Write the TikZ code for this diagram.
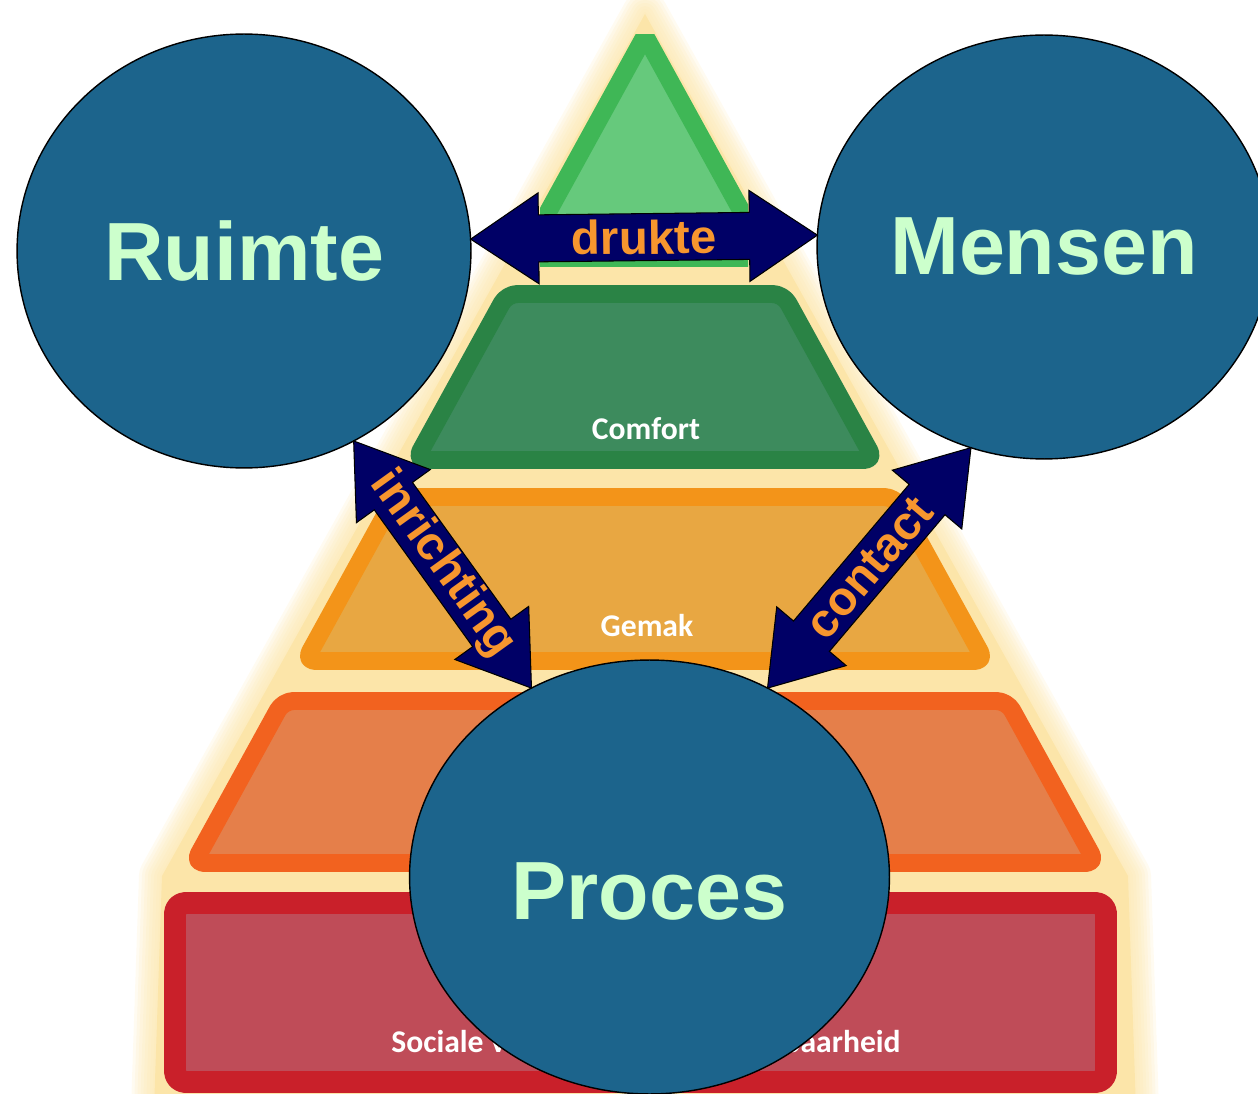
\documentclass[tikz,border=0pt]{standalone}
\usepackage{fontspec}
\setmainfont{Liberation Sans}
\newfontfamily\calibri{Carlito}
\usetikzlibrary{calc,shapes.geometric}
\definecolor{Bol}{HTML}{1C648C}
\definecolor{BolTekst}{HTML}{CCFFCC}
\definecolor{Pijl}{HTML}{000066}
\definecolor{PijlTekst}{HTML}{F7962E}
\definecolor{Gloed}{HTML}{FCE5A9}
\definecolor{TopRand}{HTML}{3FB756}
\definecolor{TopVul}{HTML}{66C97C}
\definecolor{ComfortRand}{HTML}{2A8345}
\definecolor{ComfortVul}{HTML}{3D8B5D}
\definecolor{GemakRand}{HTML}{F39419}
\definecolor{GemakVul}{HTML}{E8A742}
\definecolor{OranjeRand}{HTML}{F2621F}
\definecolor{OranjeVul}{HTML}{E57F4A}
\definecolor{RoodRand}{HTML}{C9202A}
\definecolor{RoodVul}{HTML}{BF4C58}
\tikzset{
    bol/.style={ellipse, draw=black, line width=0.8pt, fill=Bol, text=BolTekst,
        font=\fontsize{47}{50}\selectfont\bfseries, inner sep=0pt, outer sep=0pt},
    pijl/.style={fill=Pijl, draw=black, line width=0.6pt},
    pijltekst/.style={text=PijlTekst, font=\fontsize{27}{30}\selectfont\bfseries, inner sep=0pt},
    laag/.style={line width=10.2pt, line join=round, rounded corners=6pt},
    laagtekst/.style={text=white, font=\calibri\fontsize{18}{20}\selectfont\bfseries, inner sep=0pt},
}
% one band of the pyramid: #1 top, #2 bottom, #3 border, #4 fill
\newcommand\Laag[4]{%
    \pgfmathsetmacro\LaagYBoven{#1+9}
    \pgfmathsetmacro\LaagYOnder{#2-9}
    \pgfmathsetmacro\LaagHBoven{0.55*(\LaagYBoven-24)-10.3}
    \pgfmathsetmacro\LaagHOnder{0.55*(\LaagYOnder-24)-10.3}
    \draw[laag, draw=#3, fill=#4] (645-\LaagHBoven,\LaagYBoven) -- (645+\LaagHBoven,\LaagYBoven)
        -- (645+\LaagHOnder,\LaagYOnder) -- (645-\LaagHOnder,\LaagYOnder) -- cycle;
}
% double arrow between two border points, #3 is its text
\newcommand\DubbelPijl[3]{%
    \coordinate (PijlA) at (#1);
    \coordinate (PijlB) at (#2);
    \coordinate (KopA) at ($(PijlA)!1.36cm!(PijlB)$);
    \coordinate (KopB) at ($(PijlB)!1.36cm!(PijlA)$);
    \draw[pijl] (PijlA) -- ($(KopA)!0.91cm!90:(PijlB)$) -- ($(KopA)!0.47cm!90:(PijlB)$)
        -- ($(KopB)!0.47cm!-90:(PijlA)$) -- ($(KopB)!0.91cm!-90:(PijlA)$) -- (PijlB)
        -- ($(KopB)!0.91cm!90:(PijlA)$) -- ($(KopB)!0.47cm!90:(PijlA)$)
        -- ($(KopA)!0.47cm!-90:(PijlB)$) -- ($(KopA)!0.91cm!-90:(PijlB)$) -- cycle;
    \path (PijlA) -- (PijlB) node[midway, sloped, pijltekst] {#3};
}

\begin{document}
\begin{tikzpicture}[x=0.02cm, y=-0.02cm]
    \useasboundingbox (0,0) rectangle (1258,1094);
    % glow behind the pyramid
    \foreach \w in {46,40,...,4}
        \draw[Gloed, line width=\w*0.57pt, opacity=0.16, line join=round]
            (645,14) -- (1128,876) -- (1136,1110) -- (154,1110) -- (162,876) -- cycle;
    \fill[Gloed] (645,14) -- (1128,876) -- (1136,1110) -- (154,1110) -- (162,876) -- cycle;

    % pyramid
    \begin{scope}
        \clip (540,35) rectangle (748,1094);
        \draw[laag, sharp corners, line join=miter, draw=TopRand, fill=TopVul]
            (645,35.7) -- (767.3,258) -- (522.7,258) -- cycle;
    \end{scope}
    \Laag{285}{469}{ComfortRand}{ComfortVul}
    \Laag{488}{670}{GemakRand}{GemakVul}
    \Laag{692}{872}{OranjeRand}{OranjeVul}
    \draw[laag, line width=12.5pt, draw=RoodRand, fill=RoodVul] (175,903) rectangle (1106,1082);

    \node[laagtekst, anchor=base] (Comfort) at (646,440) {Comfort};
    \node[laagtekst, anchor=base] (Gemak) at (647,637) {Gemak};
    \node[laagtekst, anchor=base west] (SocialeL) at (391,1052) {Sociale v};
    \node[laagtekst, anchor=base east] (SocialeR) at (901,1052) {baarheid};

    % circles
    \node[bol, minimum width=9.08cm, minimum height=8.68cm] (Ruimte) at (244,251) {Ruimte};
    \node[bol, minimum width=9.08cm, minimum height=8.48cm] (Mensen) at (1044,247) {Mensen};
    \node[bol, minimum width=9.6cm, minimum height=8.68cm, text height=49pt] (Proces) at (649.5,877) {Proces};

    % arrows
    \DubbelPijl{Ruimte.3.5}{Mensen.177.5}{drukte}
    \DubbelPijl{Ruimte.-60.5}{Proces.122.2}{inrichting}
    \DubbelPijl{Proces.58.4}{Mensen.-110.7}{contact}
\end{tikzpicture}
\end{document}
